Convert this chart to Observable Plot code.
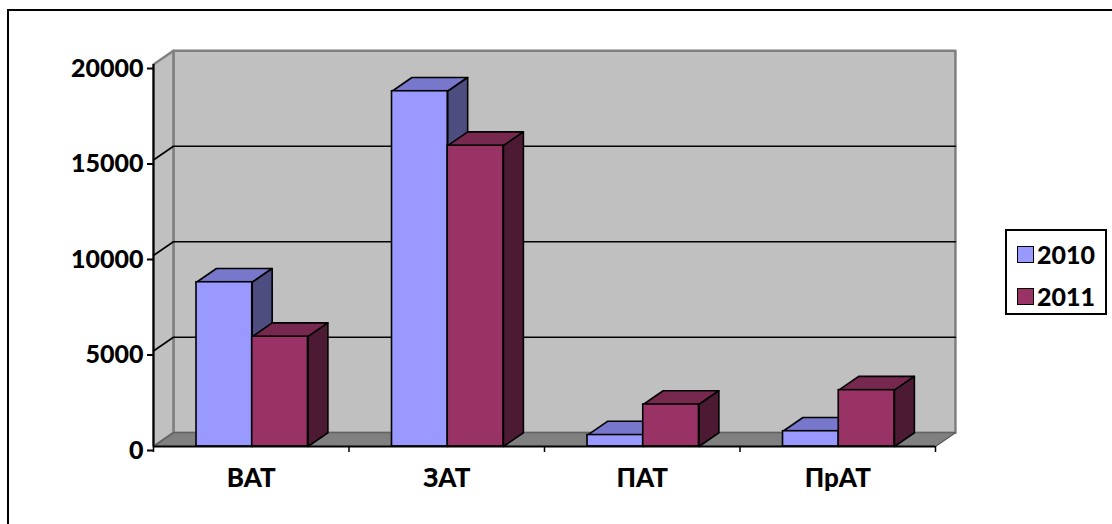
<!DOCTYPE html>
<html>
<head>
<meta charset="utf-8">
<script src="https://cdn.jsdelivr.net/npm/d3@7"></script>
<script src="https://cdn.jsdelivr.net/npm/@observablehq/plot@0.6"></script>
<style>
  body { margin: 0; background: #fff; }
  #wrap { position: relative; width: 1112px; height: 524px; overflow: hidden; font-family: Lato, "Open Sans", sans-serif; }
  #frame { position: absolute; left: 7px; top: 9px; width: 1300px; height: 700px; border-left: 2px solid #000; border-top: 2px solid #000; }
  #chart { position: absolute; left: 0; top: 0; }
  #legend { position: absolute; left: 1005px; top: 229px; width: 102px; height: 86px; box-sizing: border-box; border: 2px solid #000; background: #fff; }
  .item { position: absolute; left: 10px; display: flex; align-items: center; font-weight: 900; font-size: 25px; line-height: 25px; color: #000; }
  .sw { width: 15px; height: 15px; border: 1px solid #000; margin-right: 3px; }
</style>
</head>
<body>
<div id="wrap">
  <div id="frame"></div>
  <div id="chart"></div>
  <div id="legend"></div>
</div>
<script>
// Companies by legal form and their counts for two years
const categories = ["ВАТ", "ЗАТ", "ПАТ", "ПрАТ"];
const years = ["2010", "2011"];
const values2010 = [8600, 18600, 600, 800];
const values2011 = [5750, 15750, 2200, 2950];
const yTicks = [0, 5000, 10000, 15000, 20000];

// face colours of the pseudo-3D columns
const faces = {
  "2010": {front: "#9999FF", top: "#7777CC", side: "#4D4D80"},
  "2011": {front: "#993366", top: "#77284F", side: "#4D1A33"}
};

const series = {"2010": values2010, "2011": values2011};
const yMax = yTicks[yTicks.length - 1];

// depth of the scene, expressed in scale units (category slots / value units)
const DX = 0.102;
const DY = 720;
const GROUP_START = 0.22;
const BAR_W = 0.285;

const rows = categories.flatMap((c, i) =>
  years.map((yr, j) => ({
    category: c,
    year: yr,
    value: series[yr][i],
    x1: i + GROUP_START + j * BAR_W,
    x2: i + GROUP_START + (j + 1) * BAR_W
  }))
);

const poly = (id, pts) => pts.map(([x, y]) => ({id, x, y}));

const topFaces = yr => rows.filter(r => r.year === yr).flatMap(r =>
  poly(r.category, [[r.x1, r.value], [r.x2, r.value], [r.x2 + DX, r.value + DY], [r.x1 + DX, r.value + DY]]));
const sideFaces = yr => rows.filter(r => r.year === yr).flatMap(r =>
  poly(r.category, [[r.x2, 0], [r.x2, r.value], [r.x2 + DX, r.value + DY], [r.x2 + DX, DY]]));

const n = categories.length;
const backWall = poly("back", [[DX, DY], [n + DX, DY], [n + DX, yMax + DY], [DX, yMax + DY]]);
const sideWall = poly("side", [[0, 0], [DX, DY], [DX, yMax + DY], [0, yMax]]);
const floor = poly("floor", [[0, 0], [n, 0], [n + DX, DY], [DX, DY]]);
const grid = yTicks.slice(1, -1).flatMap(v =>
  poly(v, [[0, v], [DX, v + DY], [n + DX, v + DY]]));

const closed = {x: "x", y: "y", z: "id", curve: "linear-closed"};

const barMarks = years.flatMap(yr => [
  Plot.line(topFaces(yr), {...closed, fill: faces[yr].top, stroke: "#000", strokeWidth: 1.6}),
  Plot.line(sideFaces(yr), {...closed, fill: faces[yr].side, stroke: "#000", strokeWidth: 1.6}),
  Plot.rect(rows.filter(r => r.year === yr), {x1: "x1", x2: "x2", y1: 0, y2: "value", fill: faces[yr].front, stroke: "#000", strokeWidth: 1.6})
]);

const chart = Plot.plot({
  width: 1112,
  height: 524,
  marginLeft: 153,
  marginRight: 177,
  marginTop: 64,
  marginBottom: 78,
  style: {fontFamily: "Lato, 'Open Sans', sans-serif", fontWeight: 900, fontSize: "25px", color: "#000", background: "transparent", overflow: "visible"},
  x: {domain: [0, n], axis: null},
  y: {domain: [0, yMax], axis: null},
  marks: [
    Plot.line(backWall, {...closed, fill: "#C0C0C0", stroke: "#808080", strokeWidth: 2.5}),
    Plot.line(sideWall, {...closed, fill: "#C0C0C0", stroke: "#808080", strokeWidth: 2.5}),
    Plot.line(floor, {...closed, fill: "#808080", stroke: "#5a5a5a", strokeWidth: 1.2}),
    Plot.line(grid, {x: "x", y: "y", z: "id", stroke: "#000", strokeWidth: 1.6}),
    ...barMarks,
    Plot.ruleX([0], {y1: 0, y2: yMax, stroke: "#000", strokeWidth: 2}),
    Plot.ruleY([0], {x1: 0, x2: n, stroke: "#000", strokeWidth: 2}),
    Plot.axisY({ticks: yTicks, tickSize: 6, tickPadding: 4, tickFormat: d => String(d), dy: 4, strokeWidth: 2, label: null}),
    Plot.axisX({ticks: d3.range(n + 1), tickSize: 6, tickFormat: () => "", strokeWidth: 1.5, label: null}),
    Plot.text(categories, {x: (d, i) => i + 0.5, y: 0, text: d => d, dy: 32, fontSize: 26, fontWeight: 900, fill: "#000"})
  ]
});
document.getElementById("chart").appendChild(chart);

// legend
const legend = document.getElementById("legend");
years.forEach((yr, j) => {
  const item = document.createElement("div");
  item.className = "item";
  item.style.top = (j === 0 ? 11 : 53) + "px";
  item.innerHTML = `<span class="sw" style="background:${faces[yr].front}"></span><span>${yr}</span>`;
  legend.appendChild(item);
});
</script>
</body>
</html>
